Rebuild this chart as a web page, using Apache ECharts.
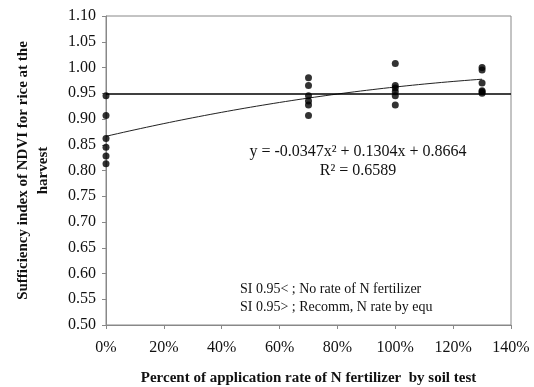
<!DOCTYPE html>
<html>
<head>
<meta charset="utf-8">
<script src="https://cdn.jsdelivr.net/npm/echarts@6/dist/echarts.min.js"></script>
<style>
  html, body { margin: 0; padding: 0; background: #fff; }
  #chart { width: 534px; height: 387px; }
</style>
</head>
<body>
<div id="chart"></div>
<script>
// N application rate (fraction of soil-test rate) for each sampled plot
const rates = [0, 0, 0, 0, 0, 0,
               0.7, 0.7, 0.7, 0.7, 0.7, 0.7,
               1.0, 1.0, 1.0, 1.0, 1.0, 1.0,
               1.3, 1.3, 1.3, 1.3, 1.3, 1.3];
// Sufficiency index of NDVI at harvest
const sufficiency = [0.945, 0.907, 0.862, 0.845, 0.828, 0.813,
                     0.980, 0.965, 0.945, 0.935, 0.927, 0.907,
                     1.008, 0.965, 0.960, 0.953, 0.945, 0.927,
                     1.000, 0.995, 0.970, 0.955, 0.953, 0.950];
// Quadratic fit y = a x^2 + b x + c
const fitCoef = [-0.0347, 0.1304, 0.8664];
const fitRange = [0, 1.3];
// Sufficiency threshold
const threshold = 0.953;

const xTicks = ['0%', '20%', '40%', '60%', '80%', '100%', '120%', '140%'];

const points = rates.map((r, i) => [r, sufficiency[i]]);
const fitLine = [];
for (let k = 0; k <= 65; k++) {
  const x = fitRange[0] + (fitRange[1] - fitRange[0]) * k / 65;
  fitLine.push([x, fitCoef[0] * x * x + fitCoef[1] * x + fitCoef[2]]);
}

const serif = 'Liberation Serif';
const chart = echarts.init(document.getElementById('chart'));
chart.setOption({
  animation: false,
  backgroundColor: '#fff',
  grid: {
    left: 106, right: 23, top: 16, bottom: 62,
    containLabel: false, outerBoundsMode: 'none',
    show: true, borderColor: '#888', borderWidth: 1
  },
  xAxis: {
    type: 'value', min: 0, max: 1.4, interval: 0.2,
    axisLine: { show: true, lineStyle: { color: '#888' } },
    axisTick: { show: true, length: 4, lineStyle: { color: '#888' } },
    splitLine: { show: false },
    axisLabel: {
      color: '#111', fontFamily: serif, fontSize: 16, margin: 15,
      formatter: v => xTicks[Math.round(v / 0.2)]
    },
    name: 'Percent of application rate of N fertilizer  by soil test',
    nameLocation: 'middle', nameGap: 46,
    nameTextStyle: { color: '#111', fontFamily: serif, fontSize: 15, fontWeight: 'bold' }
  },
  yAxis: {
    type: 'value', min: 0.5, max: 1.1, interval: 0.05,
    axisLine: { show: true, lineStyle: { color: '#888' } },
    axisTick: { show: true, length: 4, lineStyle: { color: '#888' } },
    splitLine: { show: false },
    axisLabel: {
      color: '#111', fontFamily: serif, fontSize: 16, margin: 10,
      formatter: v => v.toFixed(2)
    },
    name: 'Sufficiency index of NDVI for rice at the\nharvest',
    nameLocation: 'middle', nameGap: 53, nameRotate: 90,
    nameTextStyle: { color: '#111', fontFamily: serif, fontSize: 15, fontWeight: 'bold', lineHeight: 20 }
  },
  series: [
    {
      type: 'line', data: fitLine, showSymbol: false, smooth: false,
      lineStyle: { color: '#222', width: 1 }, z: 2
    },
    {
      type: 'scatter', data: points, symbol: 'circle', symbolSize: 7,
      itemStyle: { color: '#000' }, z: 3,
      markLine: {
        silent: true, symbol: 'none', label: { show: false },
        lineStyle: { color: '#000', width: 1.5, type: 'solid' },
        data: [{ yAxis: threshold }]
      }
    }
  ],
  graphic: [
    {
      type: 'text', x: 358, y: 152,
      style: { text: 'y = -0.0347x² + 0.1304x + 0.8664', fill: '#111', font: '16px "Liberation Serif"', textAlign: 'center', textVerticalAlign: 'middle' }
    },
    {
      type: 'text', x: 358, y: 171,
      style: { text: 'R² = 0.6589', fill: '#111', font: '16px "Liberation Serif"', textAlign: 'center', textVerticalAlign: 'middle' }
    },
    {
      type: 'text', x: 240, y: 289,
      style: { text: 'SI 0.95< ; No rate of N fertilizer', fill: '#111', font: '14px "Liberation Serif"', textAlign: 'left', textVerticalAlign: 'middle' }
    },
    {
      type: 'text', x: 240, y: 307,
      style: { text: 'SI 0.95> ; Recomm, N rate by equ', fill: '#111', font: '14px "Liberation Serif"', textAlign: 'left', textVerticalAlign: 'middle' }
    }
  ]
});
</script>
</body>
</html>
